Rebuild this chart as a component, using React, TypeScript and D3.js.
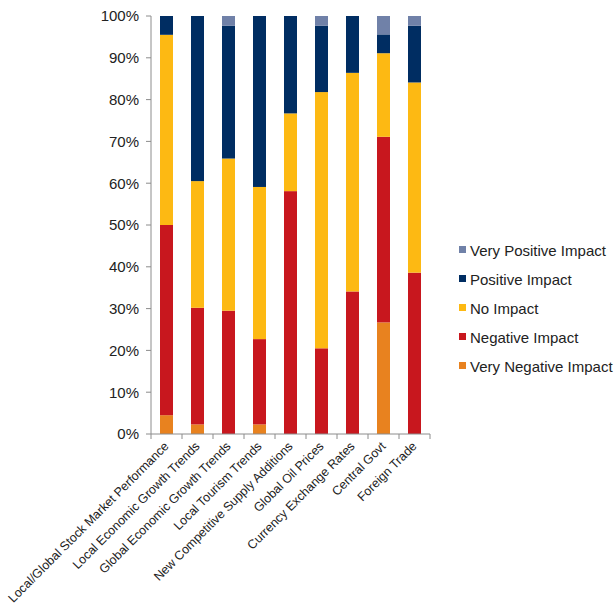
import React from "react";
import * as d3 from "d3";

const categories = [
  "Local/Global Stock Market Performance",
  "Local Economic Growth Trends",
  "Global Economic Growth Trends",
  "Local Tourism Trends",
  "New Competitive Supply Additions",
  "Global Oil Prices",
  "Currency Exchange Rates",
  "Central Govt",
  "Foreign Trade",
];

const seriesNames = [
  "Very Negative Impact",
  "Negative Impact",
  "No Impact",
  "Positive Impact",
  "Very Positive Impact",
];

const veryNegative = [4.5, 2.3, 0, 2.3, 0, 0, 0, 26.7, 0];
const negative = [45.5, 27.9, 29.5, 20.4, 58.1, 20.5, 34.1, 44.4, 38.6];
const noImpact = [45.5, 30.3, 36.4, 36.4, 18.6, 61.3, 52.3, 20.0, 45.5];
const positive = [4.5, 39.5, 31.8, 40.9, 23.3, 15.9, 13.6, 4.5, 13.6];
const veryPositive = [0, 0, 2.3, 0, 0, 2.3, 0, 4.4, 2.3];

const yTicks = [0, 10, 20, 30, 40, 50, 60, 70, 80, 90, 100];

const colors = ["#E8821F", "#C8171E", "#FDB913", "#002D62", "#7081A8"];

const W = 616;
const H = 606;
const x0 = 151;
const x1 = 430;
const yTop = 16;
const yBot = 434;

export default function App() {
  const allSeries = [veryNegative, negative, noImpact, positive, veryPositive];
  const rows = categories.map((c, i) => {
    const r: any = { cat: c };
    seriesNames.forEach((s, j) => (r[s] = allSeries[j][i]));
    return r;
  });
  const stacked = d3.stack().keys(seriesNames)(rows);
  const x = d3.scaleBand().domain(categories).range([x0, x1]).paddingInner(0).paddingOuter(0);
  const y = d3.scaleLinear().domain([0, 100]).range([yBot, yTop]);
  const barW = 13;
  const font = "'Liberation Sans', Arial, Helvetica, sans-serif";
  const legendOrder = [4, 3, 2, 1, 0];
  const legendY0 = 251;
  const legendStep = 29;

  return (
    <svg width={W} height={H} style={{ position: "absolute", left: 0, top: 0, background: "#fff" }} fontFamily={font}>
      {stacked.map((layer, j) => (
        <g key={j} fill={colors[j]}>
          {layer.map((d, i) => {
            const h = y(d[0]) - y(d[1]);
            if (h <= 0.01) return null;
            const cx = (x(categories[i]) as number) + x.bandwidth() / 2;
            return <rect key={i} x={cx - barW / 2} y={y(d[1])} width={barW} height={h} />;
          })}
        </g>
      ))}
      {/* y axis */}
      <line x1={x0} x2={x0} y1={yTop} y2={yBot} stroke="#8c8c8c" strokeWidth={1} />
      {yTicks.map((t) => (
        <g key={t}>
          <line x1={x0 - 5} x2={x0} y1={y(t)} y2={y(t)} stroke="#8c8c8c" />
          <text x={x0 - 12} y={y(t)} dy="0.36em" textAnchor="end" fontSize={15} fill="#222">
            {t}%
          </text>
        </g>
      ))}
      {/* x axis */}
      <line x1={x0} x2={x1} y1={yBot} y2={yBot} stroke="#8c8c8c" />
      {categories.map((c, i) => (
        <line key={"t" + i} x1={x(c) as number} x2={x(c) as number} y1={yBot} y2={yBot + 5} stroke="#8c8c8c" />
      ))}
      <line x1={x1} x2={x1} y1={yBot} y2={yBot + 5} stroke="#8c8c8c" />
      {categories.map((c, i) => {
        const cx = (x(c) as number) + x.bandwidth() / 2;
        return (
          <text
            key={"l" + i}
            transform={`translate(${cx + 3},${yBot + 13}) rotate(-45)`}
            textAnchor="end"
            fontSize={12.5}
            fill="#222"
          >
            {c}
          </text>
        );
      })}
      {/* legend */}
      {legendOrder.map((j, k) => (
        <g key={"lg" + j} transform={`translate(459,${legendY0 + k * legendStep})`}>
          <rect x={0} y={-5} width={7} height={7} fill={colors[j]} />
          <text x={11} y={0} dy="0.36em" fontSize={15} fill="#222">
            {seriesNames[j]}
          </text>
        </g>
      ))}
    </svg>
  );
}
